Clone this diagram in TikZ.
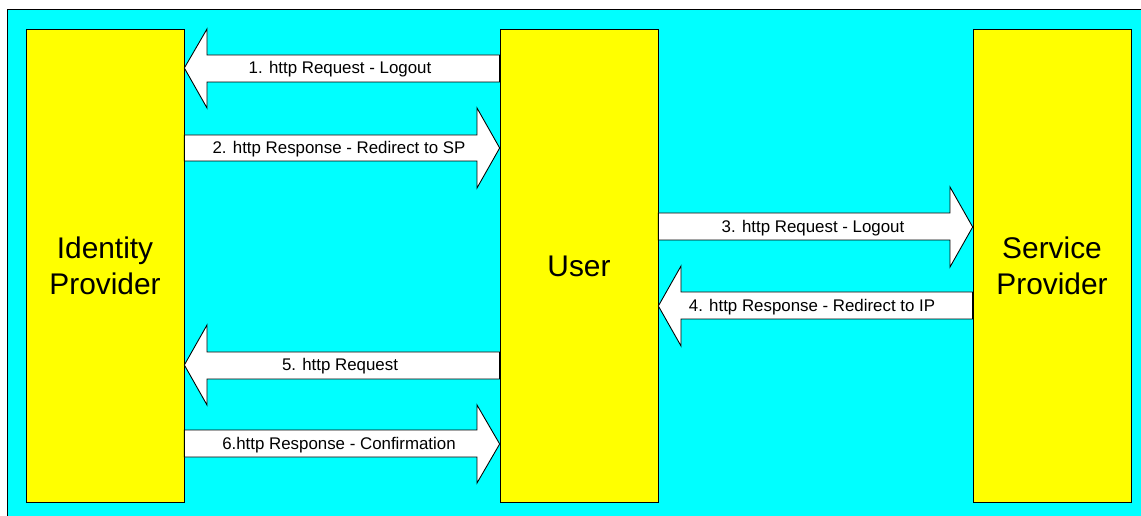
\documentclass[tikz,border=0pt]{standalone}
\usepackage{fontspec}
\setmainfont{Liberation Sans}
\usetikzlibrary{positioning}

\definecolor{bgcyan}{RGB}{0,255,255}
\definecolor{boxyellow}{RGB}{255,255,0}

\begin{document}
\begin{tikzpicture}[
  x=0.02cm, y=-0.02cm,
  party/.style={draw, fill=boxyellow, minimum width=3.16cm, minimum height=9.46cm, align=center,
    font=\fontsize{17}{20.4}\selectfont},
  blockarrow/.style={draw, fill=white, line width=0.5pt, line join=miter},
  msg/.style={font=\fontsize{9.6}{11}\selectfont, inner sep=0pt, yshift=-0.03cm}
]
  \useasboundingbox (0,0) rectangle (1141,516);
  \draw[fill=bgcyan, line width=0.5pt] (7,9) rectangle (1150,525);

  \node[party] (idp) at (105,266) {Identity\\Provider};
  \node[party] (user) at (579,266) {User};
  \node[party] (sp) at (1052,266) {Service\\Provider};

  % user <-> identity provider, first round
  \draw[blockarrow] (user.west |- 0,55) -- (207,55) -- (207,29) -- (idp.east |- 0,68)
    -- (207,108) -- (207,82) -- (user.west |- 0,82) -- cycle;
  \node[msg] (m1) at (340,68) {1. http Request - Logout};

  \draw[blockarrow] (idp.east |- 0,135) -- (477,135) -- (477,108) -- (user.west |- 0,148)
    -- (477,188) -- (477,161) -- (idp.east |- 0,161) -- cycle;
  \node[msg] (m2) at (339,148) {2. http Response - Redirect to SP};

  % user <-> service provider
  \draw[blockarrow] (user.east |- 0,213) -- (950,213) -- (950,187) -- (sp.west |- 0,227)
    -- (950,267) -- (950,240) -- (user.east |- 0,240) -- cycle;
  \node[msg] (m3) at (813,227) {3. http Request - Logout};

  \draw[blockarrow] (sp.west |- 0,292) -- (681,292) -- (681,266) -- (user.east |- 0,306)
    -- (681,346) -- (681,319) -- (sp.west |- 0,319) -- cycle;
  \node[msg] (m4) at (812,306) {4. http Response - Redirect to IP};

  % user <-> identity provider, second round
  \draw[blockarrow] (user.west |- 0,352) -- (207,352) -- (207,325) -- (idp.east |- 0,365)
    -- (207,405) -- (207,379) -- (user.west |- 0,379) -- cycle;
  \node[msg] (m5) at (340,365) {5. http Request};

  \draw[blockarrow] (idp.east |- 0,430) -- (477,430) -- (477,405) -- (user.west |- 0,444)
    -- (477,483) -- (477,457) -- (idp.east |- 0,457) -- cycle;
  \node[msg] (m6) at (339,444) {6.http Response - Confirmation};

\end{tikzpicture}
\end{document}
